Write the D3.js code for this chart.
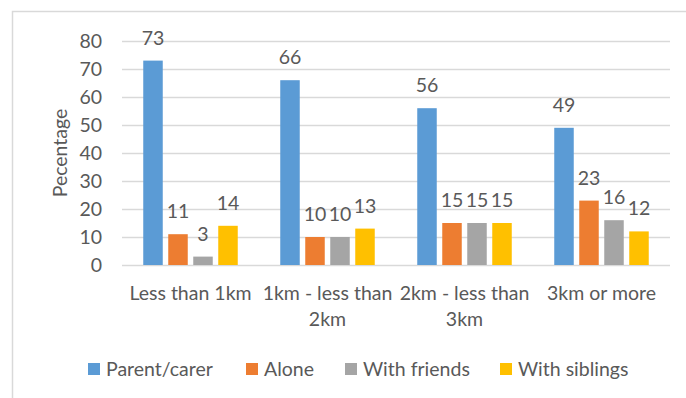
<!DOCTYPE html>
<html>
<head>
<meta charset="utf-8">
<script src="https://cdn.jsdelivr.net/npm/d3@7"></script>
<style>
  html, body { margin: 0; padding: 0; background: #fff; }
  svg { display: block; }
  text { font-family: Lato, "Open Sans", sans-serif; fill: #595959; }
</style>
</head>
<body>
<svg id="chart" width="686" height="398"></svg>
<script>
// Who children travel with, by distance band (percentages)
const categories = ["Less than 1km", "1km - less than 2km", "2km - less than 3km", "3km or more"];
const categoryLines = [["Less than 1km"], ["1km - less than", "2km"], ["2km - less than", "3km"], ["3km or more"]];
const series = ["Parent/carer", "Alone", "With friends", "With siblings"];
const parentCarer = [73, 66, 56, 49];
const alone = [11, 10, 15, 23];
const withFriends = [3, 10, 15, 16];
const withSiblings = [14, 13, 15, 12];
const yTicks = [0, 10, 20, 30, 40, 50, 60, 70, 80];
const colors = ["#5B9BD5", "#ED7D31", "#A5A5A5", "#FFC000"];

const values = [parentCarer, alone, withFriends, withSiblings];
const rows = categories.map((c, i) => ({
  category: c,
  lines: categoryLines[i],
  items: series.map((s, j) => ({ series: s, value: values[j][i] }))
}));

const svg = d3.select("#chart");
const plot = { left: 122, right: 670, top: 41, bottom: 265 };
const fs = 19.5;

// Outer frame (only top and left edges fall inside the view)
svg.append("rect")
  .attr("x", 12.5).attr("y", 11.5)
  .attr("width", 700).attr("height", 420)
  .attr("fill", "none").attr("stroke", "#d9d9d9").attr("stroke-width", 1.5);

const x0 = d3.scaleBand().domain(categories).range([plot.left, plot.right]).padding(0);
const x1 = d3.scaleBand().domain(series).range([-50, 50]).paddingInner(0.22).paddingOuter(0.11);
const y = d3.scaleLinear().domain([0, 80]).range([plot.bottom, plot.top]);
const color = d3.scaleOrdinal().domain(series).range(colors);

// Gridlines and y tick labels
const yAxis = d3.axisLeft(y).tickValues(yTicks).tickSize(-(plot.right - plot.left)).tickPadding(20);
const gy = svg.append("g").attr("transform", `translate(${plot.left},0)`).call(yAxis);
gy.select(".domain").remove();
gy.selectAll(".tick line").attr("stroke", "#d9d9d9").attr("stroke-width", 1.5);
gy.selectAll(".tick text")
  .attr("font-size", fs).attr("fill", "#595959")
  .style("font-family", "Lato, 'Open Sans', sans-serif");

// Bars
const groups = svg.append("g").selectAll("g").data(rows).join("g")
  .attr("transform", d => `translate(${x0(d.category) + x0.bandwidth() / 2},0)`);

groups.selectAll("rect").data(d => d.items).join("rect")
  .attr("x", d => x1(d.series))
  .attr("width", x1.bandwidth())
  .attr("y", d => y(d.value))
  .attr("height", d => y(0) - y(d.value))
  .attr("fill", d => color(d.series));

// Value labels
groups.selectAll("text.val").data(d => d.items).join("text")
  .attr("class", "val")
  .attr("x", d => x1(d.series) + x1.bandwidth() / 2)
  .attr("y", d => y(d.value) - 16)
  .attr("text-anchor", "middle")
  .attr("font-size", fs)
  .text(d => d.value);

// Category labels
const xl = svg.append("g").selectAll("text").data(rows).join("text")
  .attr("x", d => x0(d.category) + x0.bandwidth() / 2)
  .attr("y", 300)
  .attr("text-anchor", "middle")
  .attr("font-size", fs);
xl.selectAll("tspan").data(d => d.lines).join("tspan")
  .attr("x", function () { return d3.select(this.parentNode).attr("x"); })
  .attr("dy", (d, i) => i === 0 ? 0 : 26)
  .text(d => d);

// Y axis title
svg.append("text")
  .attr("transform", "translate(67,153) rotate(-90)")
  .attr("text-anchor", "middle")
  .attr("font-size", fs)
  .text("Pecentage");

// Legend
const legendX = [88, 246, 345, 500];
const legend = svg.append("g").selectAll("g").data(series).join("g")
  .attr("transform", (d, i) => `translate(${legendX[i]},363)`);
legend.append("rect").attr("width", 12).attr("height", 12).attr("fill", d => color(d));
legend.append("text").attr("x", 18).attr("y", 12.5).attr("font-size", fs).text(d => d);
</script>
</body>
</html>
